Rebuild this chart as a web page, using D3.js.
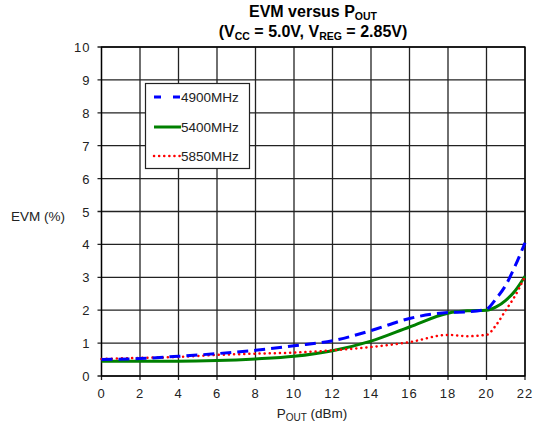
<!DOCTYPE html>
<html><head><meta charset="utf-8">
<script src="https://cdn.jsdelivr.net/npm/d3@7"></script>
<style>body{margin:0;background:#fff}text{font-family:"Liberation Sans",Arial,sans-serif}</style>
</head><body><svg id="c" width="533" height="431"></svg>
<script>
const xTicks = [0,2,4,6,8,10,12,14,16,18,20,22];
const yTicks = [0,1,2,3,4,5,6,7,8,9,10];
const pout   = [0,2,4,6,8,10,12,14,16,18,19,20,20.5,21,21.5,22];
const evm4900 = [0.5,0.53,0.6,0.68,0.78,0.92,1.07,1.38,1.75,1.93,1.95,2.03,2.35,2.76,3.36,4.05];
const evm5400 = [0.45,0.45,0.45,0.47,0.52,0.6,0.77,1.06,1.49,1.91,1.98,2.0,2.1,2.3,2.6,3.03];
const evm5850 = [0.52,0.55,0.58,0.64,0.68,0.71,0.78,0.88,1.03,1.25,1.21,1.25,1.55,2.0,2.45,3.03];
const seriesNames = ["4900MHz","5400MHz","5850MHz"];

const svg = d3.select("#c");
const m = {l:101.5, r:525, t:47, b:376};
const x = d3.scaleLinear().domain([0,22]).range([m.l,m.r]);
const y = d3.scaleLinear().domain([0,10]).range([m.b,m.t]);

// grid
const g = svg.append("g");
g.selectAll(".vx").data(xTicks).enter().append("line")
 .attr("x1",d=>x(d)).attr("x2",d=>x(d)).attr("y1",m.t).attr("y2",m.b+4)
 .attr("stroke","#222").attr("stroke-width",1.3);
g.selectAll(".hy").data(yTicks).enter().append("line")
 .attr("y1",d=>y(d)).attr("y2",d=>y(d)).attr("x1",m.l-4).attr("x2",m.r)
 .attr("stroke","#222").attr("stroke-width",1.3);
g.append("rect").attr("x",m.l).attr("y",m.t).attr("width",m.r-m.l).attr("height",m.b-m.t)
 .attr("fill","none").attr("stroke","#000").attr("stroke-width",1.3);

// tick labels
g.selectAll(".xl").data(xTicks).enter().append("text")
 .attr("x",d=>x(d)).attr("y",m.b+22).attr("text-anchor","middle")
 .attr("font-size",13).attr("letter-spacing",1).attr("fill","#222").text(d=>d);
g.selectAll(".yl").data(yTicks).enter().append("text")
 .attr("x",m.l-11).attr("y",d=>y(d)+5).attr("text-anchor","end")
 .attr("font-size",13).attr("letter-spacing",1).attr("fill","#222").text(d=>d);

// axis titles
svg.append("text").attr("x",38).attr("y",221).attr("text-anchor","middle")
 .attr("font-size",13.5).attr("fill","#222").text("EVM (%)");
const xt = svg.append("text").attr("x",312).attr("y",418).attr("text-anchor","middle")
 .attr("font-size",13.5).attr("fill","#222");
xt.append("tspan").text("P");
xt.append("tspan").attr("font-size",10).attr("dy",3).text("OUT");
xt.append("tspan").attr("dy",-3).text(" (dBm)");

// title
const t1 = svg.append("text").attr("x",313).attr("y",17).attr("text-anchor","middle")
 .attr("font-size",16).attr("font-weight","bold").attr("fill","#000");
t1.append("tspan").text("EVM versus P");
t1.append("tspan").attr("font-size",10.5).attr("dy",2.5).text("OUT");
const t2 = svg.append("text").attr("x",313).attr("y",37).attr("text-anchor","middle")
 .attr("font-size",16).attr("font-weight","bold").attr("fill","#000");
t2.append("tspan").text("(V");
t2.append("tspan").attr("font-size",10.5).attr("dy",2.5).text("CC");
t2.append("tspan").attr("dy",-2.5).text(" = 5.0V, V");
t2.append("tspan").attr("font-size",10.5).attr("dy",2.5).text("REG");
t2.append("tspan").attr("dy",-2.5).text(" = 2.85V)");

// lines
const styles = [
 {c:"#0000ff", w:3, dash:"11,6", cap:"butt"},
 {c:"#008000", w:3, dash:null, cap:"butt"},
 {c:"#ff0000", w:2.5, dash:"0.1,5", cap:"round"}
];
const allVals = [evm4900, evm5400, evm5850];
const line = d3.line().x(d=>x(d[0])).y(d=>y(d[1])).curve(d3.curveMonotoneX);
const plot = svg.append("g");
[1,2,0].forEach(i=>{
  plot.append("path").datum(pout.map((p,j)=>[p,allVals[i][j]]))
   .attr("d",line).attr("fill","none").attr("stroke",styles[i].c)
   .attr("stroke-width",styles[i].w).attr("stroke-dasharray",styles[i].dash)
   .attr("stroke-linecap",styles[i].cap);
});

// legend
const lg = svg.append("g");
lg.append("rect").attr("x",145.5).attr("y",83.5).attr("width",104).attr("height",85)
 .attr("fill","#fff").attr("stroke","#222").attr("stroke-width",1.2);
const ly = [97,127,156];
const legDash = ["7,12", null, "0.1,5"];
seriesNames.forEach((n,i)=>{
  lg.append("line").attr("x1",154).attr("x2",181).attr("y1",ly[i]).attr("y2",ly[i])
   .attr("stroke",styles[i].c).attr("stroke-width",styles[i].w)
   .attr("stroke-dasharray",legDash[i]).attr("stroke-linecap",styles[i].cap);
  lg.append("text").attr("x",181).attr("y",ly[i]+5).attr("font-size",13.5)
   .attr("fill","#222").text(n);
});
</script></body></html>
